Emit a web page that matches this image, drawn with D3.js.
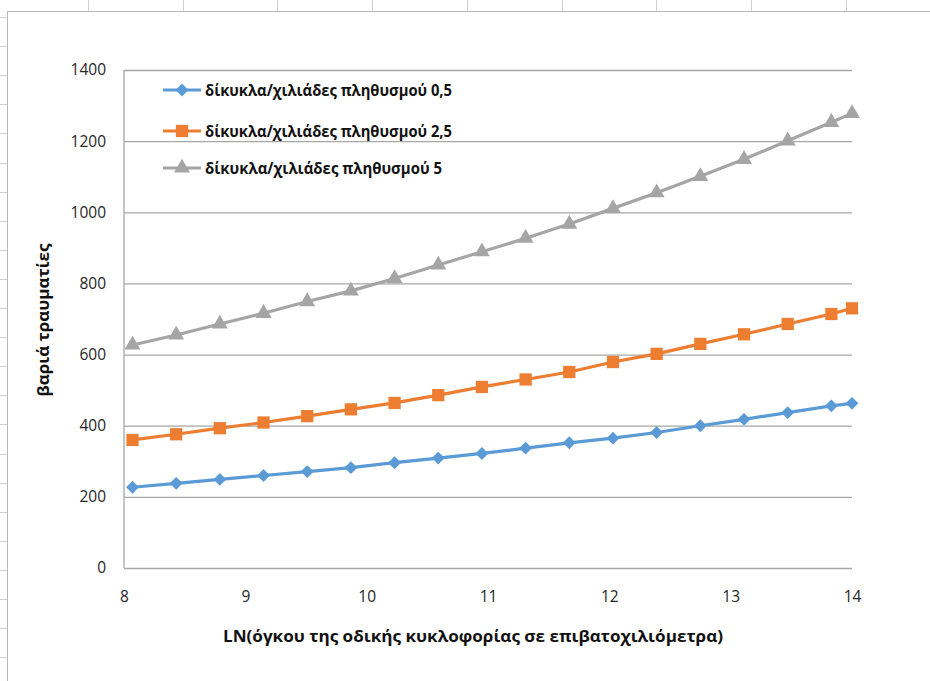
<!DOCTYPE html>
<html>
<head>
<meta charset="utf-8">
<script src="https://cdn.jsdelivr.net/npm/d3@7"></script>
<style>
  html, body { margin: 0; padding: 0; background: #fff; }
  svg { display: block; }
</style>
</head>
<body>
<div id="chart"></div>
<script>
// LN of traffic volume (passenger-km)
const xValues = [8.07, 8.43, 8.79, 9.15, 9.51, 9.87, 10.23, 10.59, 10.95, 11.31, 11.67, 12.03, 12.39, 12.75, 13.11, 13.47, 13.83, 14.0];
// serious injuries for each motorcycle rate
const series05 = [227, 238, 249, 260, 271, 282, 296, 309, 322, 337, 352, 365, 381, 400, 418, 437, 456, 463];
const series25 = [360, 376, 393, 409, 427, 446, 464, 486, 509, 530, 551, 579, 602, 630, 657, 686, 714, 730];
const series5  = [627, 655, 686, 716, 749, 779, 814, 852, 889, 927, 967, 1011, 1055, 1101, 1149, 1201, 1253, 1278];
const seriesNames = ["δίκυκλα/χιλιάδες πληθυσμού 0,5", "δίκυκλα/χιλιάδες πληθυσμού 2,5", "δίκυκλα/χιλιάδες πληθυσμού 5"];
const seriesColors = ["#5B9BD5", "#ED7D31", "#A5A5A5"];
const markerTypes = ["diamond", "square", "triangle"];
const yTicks = [0, 200, 400, 600, 800, 1000, 1200, 1400];
const xTicks = [8, 9, 10, 11, 12, 13, 14];
const xTitle = "LN(όγκου της οδικής κυκλοφορίας σε επιβατοχιλιόμετρα)";
const yTitle = "βαριά τραυματίες";

const W = 930, H = 681;
const svg = d3.select("#chart").append("svg").attr("width", W).attr("height", H);
const font = "'Open Sans', 'Noto Sans', sans-serif";

// worksheet frame around the embedded chart
const frame = svg.append("g").attr("stroke", "#b8b8b8").attr("stroke-width", 1);
frame.append("line").attr("x1", 7.5).attr("x2", 7.5).attr("y1", 11).attr("y2", H);
frame.append("line").attr("x1", 7).attr("x2", W).attr("y1", 11.5).attr("y2", 11.5);
for (let y = 17; y < H; y += 29.1) {
  frame.append("line").attr("x1", 0).attr("x2", 7).attr("y1", Math.round(y) + 0.5).attr("y2", Math.round(y) + 0.5).attr("stroke", "#d0d0d0");
}
for (let x = 88; x < W; x += 94.7) {
  frame.append("line").attr("x1", Math.round(x) + 0.5).attr("x2", Math.round(x) + 0.5).attr("y1", 0).attr("y2", 11).attr("stroke", "#d0d0d0");
}

const x = d3.scaleLinear().domain([8, 14]).range([124, 852]);
const y = d3.scaleLinear().domain([0, 1400]).range([568, 70]);

// horizontal gridlines
const grid = svg.append("g").attr("transform", `translate(${x(8)},0)`)
  .call(d3.axisLeft(y).tickValues(yTicks).tickSize(-(x(14) - x(8))).tickFormat(""));
grid.select(".domain").remove();
grid.selectAll(".tick line").attr("stroke", "#a6a6a6").attr("stroke-width", 1.3);

// vertical axis line
svg.append("line").attr("x1", x(8)).attr("x2", x(8)).attr("y1", y(1400)).attr("y2", y(0))
  .attr("stroke", "#a6a6a6").attr("stroke-width", 1.3);

// y tick labels
const yAxis = svg.append("g").attr("transform", `translate(${x(8)},0)`)
  .call(d3.axisLeft(y).tickValues(yTicks).tickSize(0).tickPadding(18).tickFormat(d3.format("d")));
yAxis.select(".domain").remove();
yAxis.selectAll("text").attr("font-family", font).attr("font-size", 15.5).attr("fill", "#262626");

// x tick labels
const xAxis = svg.append("g").attr("transform", `translate(0,${y(0)})`)
  .call(d3.axisBottom(x).tickValues(xTicks).tickSize(0).tickPadding(23).tickFormat(d3.format("d")));
xAxis.select(".domain").remove();
xAxis.selectAll("text").attr("font-family", font).attr("font-size", 15.5).attr("fill", "#262626");

// axis titles
svg.append("text").attr("x", 473).attr("y", 642).attr("text-anchor", "middle")
  .attr("font-family", font).attr("font-weight", "bold").attr("font-size", 16.5).attr("fill", "#111")
  .attr("textLength", 500).attr("lengthAdjust", "spacingAndGlyphs").text(xTitle);
svg.append("text").attr("transform", "translate(49,320) rotate(-90)").attr("text-anchor", "middle")
  .attr("font-family", font).attr("font-weight", "bold").attr("font-size", 16.5).attr("fill", "#111")
  .attr("textLength", 153).attr("lengthAdjust", "spacingAndGlyphs").text(yTitle);

// marker shapes
function marker(type) {
  if (type === "diamond") return d3.symbol().type(d3.symbolDiamond2).size(105)();
  if (type === "square") return d3.symbol().type(d3.symbolSquare).size(150)();
  return d3.symbol().type(d3.symbolTriangle).size(110)();
}

const allSeries = [series05, series25, series5];
allSeries.forEach((vals, i) => {
  const pts = xValues.map((xv, j) => [xv, vals[j]]);
  svg.append("path").datum(pts)
    .attr("fill", "none").attr("stroke", seriesColors[i]).attr("stroke-width", 3.2)
    .attr("stroke-linejoin", "round")
    .attr("d", d3.line().x(d => x(d[0])).y(d => y(d[1])));
  svg.append("g").selectAll("path").data(pts).join("path")
    .attr("transform", d => `translate(${x(d[0])},${y(d[1])})`)
    .attr("d", marker(markerTypes[i]))
    .attr("fill", seriesColors[i]);
});

// legend
const legendRows = [90, 131, 168];
const legend = svg.append("g");
seriesNames.forEach((name, i) => {
  const g = legend.append("g").attr("transform", `translate(0,${legendRows[i]})`);
  g.append("line").attr("x1", 163).attr("x2", 201).attr("y1", 0).attr("y2", 0)
    .attr("stroke", seriesColors[i]).attr("stroke-width", 3.2);
  g.append("path").attr("transform", "translate(182,0)").attr("d", marker(markerTypes[i])).attr("fill", seriesColors[i]);
  const w = i === 2 ? 237 : 247;
  g.append("text").attr("x", 205).attr("y", 6).attr("font-family", font).attr("font-weight", "bold")
    .attr("font-size", 16).attr("fill", "#111")
    .attr("textLength", w).attr("lengthAdjust", "spacingAndGlyphs").text(name);
});
</script>
</body>
</html>
